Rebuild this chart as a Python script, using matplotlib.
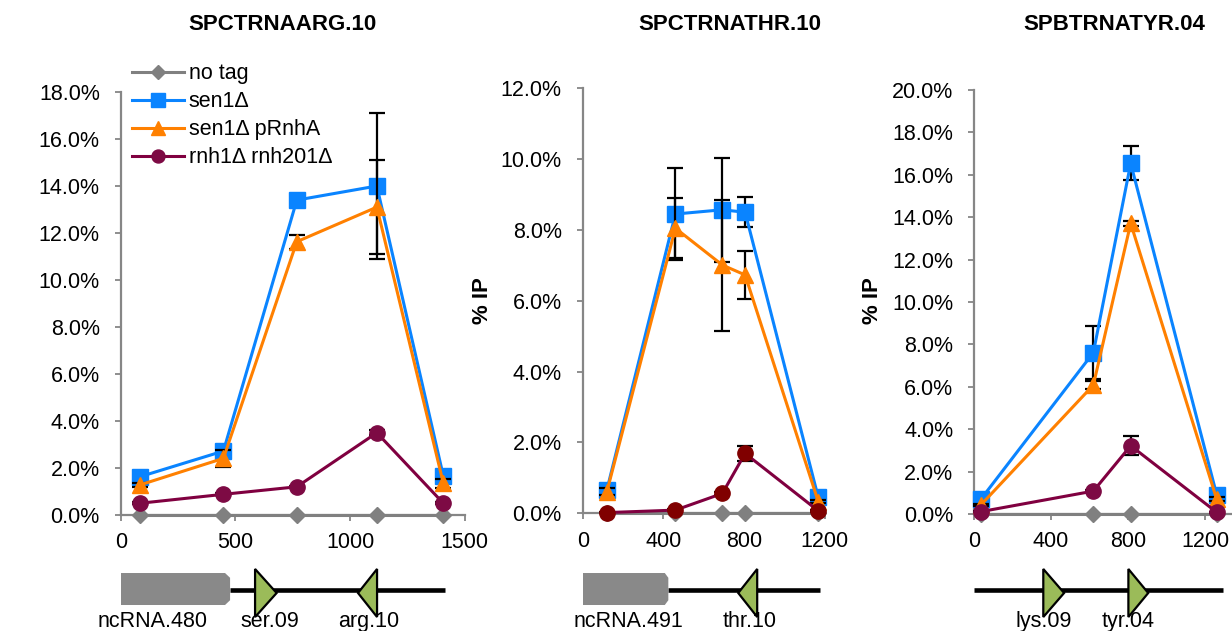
import matplotlib
matplotlib.use('Agg')
import matplotlib.pyplot as plt
from matplotlib import ticker
from matplotlib.patches import Polygon
from matplotlib.lines import Line2D

plt.rcParams['font.family'] = ['Liberation Sans', 'DejaVu Sans']

W, H = 1232, 631

series_names = ['no tag', 'sen1Δ', 'sen1Δ pRnhA', 'rnh1Δ rnh201Δ']
titles = ['SPCTRNAARG.10', 'SPCTRNATHR.10', 'SPBTRNATYR.04']

# SPCTRNAARG.10  (position in bp, % IP)
arg_pos = [84, 448, 768, 1117, 1407]
arg_notag = [0, 0, 0, 0, 0]
arg_sen1 = [1.63, 2.72, 13.4, 14.0, 1.66]
arg_sen1_err = [0.1, 0.1, 0.1, 3.1, 0.15]
arg_rnha = [1.28, 2.41, 11.63, 13.1, 1.35]
arg_rnha_err = [0.1, 0.35, 0.3, 2.0, 0.2]
arg_rnh = [0.5, 0.88, 1.2, 3.5, 0.5]
arg_rnh_err = [0.05, 0.05, 0.05, 0.1, 0.05]

# SPCTRNATHR.10
thr_pos = [120, 460, 693, 806, 1169]
thr_notag = [0, 0, 0, 0, 0]
thr_sen1 = [0.66, 8.45, 8.57, 8.5, 0.45]
thr_sen1_err = [0.1, 1.3, 1.47, 0.42, 0.05]
thr_rnha = [0.61, 8.05, 7.01, 6.73, 0.33]
thr_rnha_err = [0.1, 0.85, 1.85, 0.68, 0.05]
thr_rnh = [0.02, 0.09, 0.56, 1.69, 0.07]
thr_rnh_err = [0.02, 0.03, 0.05, 0.22, 0.03]

# SPBTRNATYR.04
tyr_pos = [35, 620, 814, 1261]
tyr_notag = [0, 0, 0, 0]
tyr_sen1 = [0.69, 7.61, 16.54, 0.9]
tyr_sen1_err = [0.1, 1.26, 0.8, 0.15]
tyr_rnha = [0.42, 6.08, 13.71, 0.69]
tyr_rnha_err = [0.05, 0.2, 0.12, 0.1]
tyr_rnh = [0.11, 1.08, 3.22, 0.08]
tyr_rnh_err = [0.02, 0.05, 0.45, 0.02]

# gene maps: (label, start, end, kind, label_x)
arg_genes = [('ncRNA.480', 0, 477, 'box', 139), ('ser.09', 586, 680, 'fwd', 650),
             ('arg.10', 1035, 1118, 'rev', 1080)]
arg_line = (477, 1414)
thr_genes = [('ncRNA.491', 0, 425, 'box', 229), ('thr.10', 772, 866, 'rev', 830)]
thr_line = (425, 1178)
tyr_genes = [('lys.09', 360, 468, 'fwd', 364), ('tyr.04', 802, 905, 'fwd', 802)]
tyr_line = (0, 1295)

colors = ['#808080', '#0A84FF', '#FF8000', '#800040']
markers = ['D', 's', '^', 'o']
msizes = [8, 11.5, 11.5, 11]

fig = plt.figure(figsize=(W / 100, H / 100), dpi=100)


def px_axes(left, right, top, bottom):
    return fig.add_axes([left / W, 1 - bottom / H, (right - left) / W, (bottom - top) / H])


def draw_panel(box, xmax, xticks, ymax, pos, ys, errs, genes, line, title, title_x,
               ylabel_x, rnh_marker):
    left, right, top, bottom = box
    ax = px_axes(left, right, top, bottom)
    for i in range(4):
        mc = rnh_marker if i == 3 else colors[i]
        if errs[i] is None:
            ln, = ax.plot(pos, ys[i], color=colors[i], marker=markers[i], ms=msizes[i],
                          lw=2.2, mfc=mc, mec=mc, zorder=3 + i)
            ln.set_clip_on(False)
        else:
            eb = ax.errorbar(pos, ys[i], yerr=errs[i], color=colors[i], marker=markers[i],
                             ms=msizes[i], lw=2.2, mfc=mc, mec=mc, ecolor='black',
                             elinewidth=1.6, capsize=6, capthick=1.6, zorder=3 + i)
            for ch in eb.get_children():
                ch.set_clip_on(False)
    ax.set_xlim(0, xmax)
    ax.set_ylim(0, ymax)
    ax.set_xticks(xticks)
    ax.yaxis.set_major_locator(ticker.MultipleLocator(2))
    ax.yaxis.set_major_formatter(ticker.FuncFormatter(lambda v, p: '%.1f%%' % v))
    for s in ['top', 'right']:
        ax.spines[s].set_visible(False)
    for s in ['left', 'bottom']:
        ax.spines[s].set_color('#868686')
        ax.spines[s].set_linewidth(1.6)
    ax.tick_params(direction='out', length=4.5, width=1.3, color='#868686', labelsize=15.5)
    ax.tick_params(axis='y', pad=10.5)
    ax.tick_params(axis='x', pad=8)
    fig.text(title_x / W, 1 - 24 / H, title, ha='center', va='center', fontsize=16,
             fontweight='bold')
    if ylabel_x is not None:
        fig.text(ylabel_x / W, 1 - 301 / H, '% IP', ha='center', va='center', rotation=90,
                 fontsize=16, fontweight='bold')

    # gene map underneath
    gx = px_axes(left, right, 555, H)
    gx.set_xlim(0, xmax)
    gx.set_ylim(0, 1)
    gx.axis('off')
    gx.plot(line, [0.539, 0.539], color='black', lw=3.3, solid_capstyle='butt', zorder=1)
    ch = 22 * xmax / 1500
    for name, a, b, kind, lx in genes:
        if kind == 'box':
            pts = [(a, 0.342), (a, 0.763), (b - ch, 0.763), (b, 0.70), (b, 0.405), (b - ch, 0.342)]
            gx.add_patch(Polygon(pts, closed=True, fc='#898989', ec='none', zorder=2))
        elif kind == 'fwd':
            gx.add_patch(Polygon([(a, 0.816), (a, 0.184), (b, 0.5)], closed=True,
                                 fc='#9BBB59', ec='black', lw=1.6, zorder=3))
        else:
            gx.add_patch(Polygon([(b, 0.816), (b, 0.184), (a, 0.5)], closed=True,
                                 fc='#9BBB59', ec='black', lw=1.6, zorder=3))
        gx.text(lx, 0.053, name, ha='center', va='baseline', fontsize=15.5, clip_on=False)
    return ax


# the first panel's y label sits outside the cropped picture
ax1 = draw_panel((120.7, 120.7 + 1500 * 0.2293, 92, 515), 1500, [0, 500, 1000, 1500], 18,
                 arg_pos, [arg_notag, arg_sen1, arg_rnha, arg_rnh],
                 [None, arg_sen1_err, arg_rnha_err, arg_rnh_err],
                 arg_genes, arg_line, titles[0], 282.7, None, '#7D0A44')
ax2 = draw_panel((582.7, 582.7 + 1200 * 0.2015, 88.3, 513.3), 1200, [0, 400, 800, 1200], 12,
                 thr_pos, [thr_notag, thr_sen1, thr_rnha, thr_rnh],
                 [None, thr_sen1_err, thr_rnha_err, thr_rnh_err],
                 thr_genes, thr_line, titles[1], 730, 482, '#800000')
ax3 = draw_panel((974, 974 + 1600 * 0.1925, 90, 514), 1600, [0, 400, 800, 1200, 1600], 20,
                 tyr_pos, [tyr_notag, tyr_sen1, tyr_rnha, tyr_rnh],
                 [None, tyr_sen1_err, tyr_rnha_err, tyr_rnh_err],
                 tyr_genes, tyr_line, titles[2], 1114, 873, '#7D0A44')

handles = [Line2D([], [], color=colors[i], marker=markers[i], ms=msizes[i] * 0.85, lw=2.2,
                  mfc=('#7D0A44' if i == 3 else colors[i]),
                  mec=('#7D0A44' if i == 3 else colors[i])) for i in range(4)]
fig.legend(handles, series_names, loc='upper left', bbox_to_anchor=(131.7 / W, 1 - 63.5 / H),
           frameon=False, fontsize=15.5, handlelength=2.43, handletextpad=0.22,
           labelspacing=0.32, borderpad=0, borderaxespad=0)

fig.savefig('out.png', dpi=100)
